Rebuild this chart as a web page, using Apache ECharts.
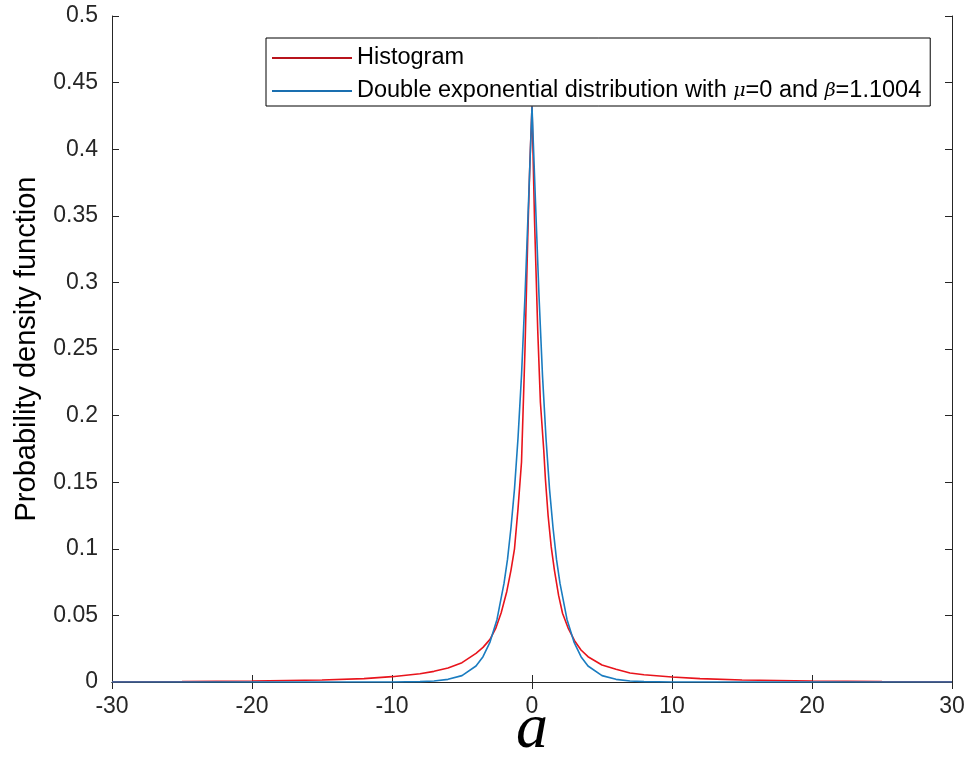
<!DOCTYPE html>
<html>
<head>
<meta charset="utf-8">
<script src="https://cdn.jsdelivr.net/npm/echarts@6/dist/echarts.min.js"></script>
<style>
  html, body { margin: 0; padding: 0; background: #fff; }
  #main { width: 968px; height: 763px; }
</style>
</head>
<body>
<div id="main"></div>
<script>
// histogram curve
const histX = [-30, -25, -20, -15, -12, -10, -8, -7, -6, -5, -4, -3.5, -3, -2.6, -2.2, -1.8, -1.5, -1.25, -1.0, -0.75, -0.5, -0.3, -0.15, 0,
  0.18, 0.41, 0.6, 0.84, 0.96, 1.15, 1.37, 1.6, 1.9, 2.18, 2.6, 3.04, 3.5, 4, 5, 6, 7, 8, 10, 12, 15, 20, 25, 30];
const histY = [0.0002, 0.0004, 0.0008, 0.0015, 0.0025, 0.004, 0.0062, 0.008, 0.0105, 0.0145, 0.0215, 0.026, 0.032, 0.040, 0.052, 0.068, 0.084, 0.100, 0.13, 0.165, 0.25, 0.335, 0.39, 0.432,
  0.347, 0.264, 0.21, 0.174, 0.152, 0.125, 0.1016, 0.084, 0.065, 0.0516, 0.040, 0.031, 0.024, 0.019, 0.0128, 0.0095, 0.0067, 0.0055, 0.0037, 0.0025, 0.0015, 0.0008, 0.0004, 0.0002];

// double exponential curve
const lapX = [-30, -15, -10, -8, -7, -6, -5, -4, -3.5, -3, -2.5, -2, -1.75, -1.5, -1.25, -1, -0.75, -0.5, -0.25, 0,
  0.25, 0.5, 0.75, 1, 1.25, 1.5, 1.75, 2, 2.5, 3, 3.5, 4, 5, 6, 7, 8, 10, 15, 30];
const lapY = [0, 0, 0.00005, 0.0003, 0.0008, 0.002, 0.0048, 0.012, 0.019, 0.03, 0.047, 0.074, 0.092, 0.116, 0.145, 0.183, 0.23, 0.29, 0.36, 0.432,
  0.36, 0.29, 0.23, 0.183, 0.145, 0.116, 0.092, 0.074, 0.047, 0.03, 0.019, 0.012, 0.0048, 0.002, 0.0008, 0.0003, 0.00005, 0, 0];

const seriesNames = ['Histogram', 'Double exponential distribution with {g|\u03bc}=0 and {g|\u03b2}=1.1004'];

const chart = echarts.init(document.getElementById('main'));

const pair = (xs, ys) => xs.map((x, i) => [x, ys[i]]);
const font = 'Liberation Sans, Arial, sans-serif';
const axisCol = '#262626';

const xCommon = {
  type: 'value', min: -30, max: 30, interval: 10,
  axisLine: { lineStyle: { color: axisCol, width: 1 } },
  axisTick: { inside: true, length: 7, lineStyle: { color: axisCol } },
  splitLine: { show: false }
};
const yCommon = {
  type: 'value', min: 0, max: 0.5, interval: 0.05,
  axisLine: { show: true, onZero: false, lineStyle: { color: axisCol, width: 1 } },
  axisTick: { show: true, inside: true, length: 7, lineStyle: { color: axisCol } },
  splitLine: { show: false }
};

chart.setOption({
  animation: false,
  backgroundColor: '#fff',
  grid: { left: 112, right: 16, top: 16, bottom: 81, outerBoundsMode: 'none', containLabel: false },
  legend: {
    orient: 'vertical',
    left: 266, top: 38,
    backgroundColor: '#fff',
    borderColor: '#000', borderWidth: 1,
    padding: [6, 9, 1, 6],
    icon: 'rect',
    itemWidth: 80, itemHeight: 2, itemGap: 5,
    data: [seriesNames[0], seriesNames[1]],
    formatter: n => n,
    textStyle: {
      fontFamily: font, fontSize: 23.5, color: '#000', lineHeight: 28,
      rich: { g: { fontFamily: 'DejaVu Serif, serif', fontStyle: 'italic', fontSize: 19, color: '#000', lineHeight: 28 } }
    }
  },
  xAxis: [
    Object.assign({}, xCommon, {
      position: 'bottom',
      name: 'a', nameLocation: 'middle', nameGap: 16, nameMoveOverlap: false,
      nameTextStyle: { fontFamily: 'Liberation Serif, Times New Roman, serif', fontStyle: 'italic', fontSize: 64, color: '#000', verticalAlign: 'top' },
      axisLabel: { fontFamily: font, fontSize: 23, color: axisCol, margin: 13 }
    }),
    Object.assign({}, xCommon, { position: 'top', axisLabel: { show: false } })
  ],
  yAxis: [
    Object.assign({}, yCommon, {
      position: 'left',
      name: 'Probability density function', nameLocation: 'middle', nameGap: 71,
      nameTextStyle: { fontFamily: font, fontSize: 29, color: '#000' },
      axisLabel: { fontFamily: font, fontSize: 23, color: axisCol, margin: 14 }
    }),
    Object.assign({}, yCommon, { position: 'right', axisLabel: { show: false } })
  ],
  series: [
    {
      name: seriesNames[0], type: 'line', symbol: 'none',
      xAxisIndex: 0, yAxisIndex: 0,
      lineStyle: { color: '#e8141c', width: 1.6 },
      itemStyle: { color: '#b8141c' },
      data: pair(histX, histY)
    },
    {
      name: seriesNames[1], type: 'line', symbol: 'none',
      xAxisIndex: 0, yAxisIndex: 0,
      lineStyle: { color: '#1a7cc0', width: 1.6 },
      itemStyle: { color: '#1a6fb0' },
      data: pair(lapX, lapY)
    }
  ]
});
</script>
</body>
</html>
